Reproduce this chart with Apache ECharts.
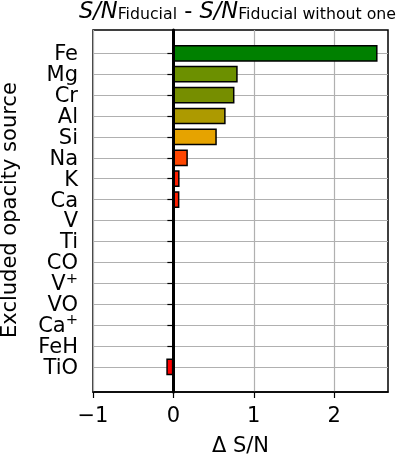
<!DOCTYPE html>
<html>
<head>
<meta charset="utf-8">
<script src="https://cdn.jsdelivr.net/npm/echarts@6/dist/echarts.min.js"></script>
<style>html,body{margin:0;padding:0;background:#fff}#c{width:400px;height:454px}</style>
</head>
<body>
<div id="c"></div>
<script>
// Data
var categories = ['Fe','Mg','Cr','Al','Si','Na','K','Ca','V','Ti','CO','V+','VO','Ca+','FeH','TiO'];
var deltaSN = [2.54, 0.80, 0.76, 0.65, 0.54, 0.18, 0.077, 0.075, 0.02, 0, 0, 0, 0, 0, -0.01, -0.088];
var barColors = ['#008000','#6c9000','#768e00','#ad9a00','#e6a300','#ff4600','#ff1f00','#ff1e00','#ff1000','#ff0800','#ff0500','#ff0500','#ff0500','#ff0500','#ff0300','#ff0000'];
var xTicks = [-1, 0, 1, 2];

var FONT = 'DejaVu Sans';
var chart = echarts.init(document.getElementById('c'), null, {renderer: 'canvas'});

var barData = deltaSN.map(function (v, i) {
  return { value: v, itemStyle: { color: barColors[i], borderWidth: v === 0 ? 0 : 1.5 } };
});

chart.setOption({
  animation: false,
  backgroundColor: '#fff',
  title: {
    text: '{i|S/N}{s|Fiducial}{n| - }{i|S/N}{s|Fiducial without one}',
    left: 79, top: 1, padding: 0,
    textStyle: {
      fontFamily: FONT, fontWeight: 'normal',
      rich: {
        i: { fontFamily: FONT, fontSize: 22.5, fontStyle: 'italic', fontWeight: 'normal', color: '#000', lineHeight: 22, verticalAlign: 'top' },
        n: { fontFamily: FONT, fontSize: 22.5, fontWeight: 'normal', color: '#000', lineHeight: 22, verticalAlign: 'top' },
        s: { fontFamily: FONT, fontSize: 15.75, fontWeight: 'normal', color: '#000', lineHeight: 10, verticalAlign: 'bottom' }
      }
    }
  },
  grid: [
    { left: 93, right: 12, top: 30, bottom: 62, show: true, borderColor: '#000', borderWidth: 1.5, backgroundColor: 'transparent', containLabel: false, outerBoundsMode: 'none' },
    { left: 93, right: 12, top: 53.3, bottom: 87.2, containLabel: false, outerBoundsMode: 'none' }
  ],
  xAxis: [
    {
      gridIndex: 0, type: 'value', min: -1, max: 2.67, interval: 1,
      axisLine: { show: true, lineStyle: { color: '#000', width: 1.5 } },
      axisTick: { show: true, length: 6, lineStyle: { color: '#000', width: 1.2 }, customValues: xTicks },
      axisLabel: { show: true, fontFamily: FONT, fontSize: 21, color: '#000', margin: 14, customValues: xTicks,
        formatter: function (v) { return v < 0 ? '\u2212' + Math.abs(v) : String(v); } },
      splitLine: { show: true, lineStyle: { color: '#b0b0b0', width: 1.2 } },
      name: '\u0394 S/N', nameLocation: 'middle', nameGap: 44,
      nameTextStyle: { fontFamily: FONT, fontSize: 21, color: '#000' }
    },
    { gridIndex: 1, type: 'value', min: -1, max: 2.67, show: false }
  ],
  yAxis: [
    {
      gridIndex: 0, type: 'value', min: 0, max: 1, z: 5,
      axisLine: { show: true, onZero: true, lineStyle: { color: '#000', width: 3 } },
      axisTick: { show: false }, axisLabel: { show: false }, splitLine: { show: false }
    },
    {
      gridIndex: 1, type: 'category', data: categories, inverse: true, boundaryGap: false,
      axisLine: { show: false },
      axisTick: { show: true, interval: 0, length: 6, lineStyle: { color: '#000', width: 1.2 } },
      axisLabel: {
        show: true, interval: 0, margin: 15, fontFamily: FONT, fontSize: 21, color: '#000',
        formatter: function (name) {
          if (name.charAt(name.length - 1) === '+') {
            return '{m|' + name.slice(0, -1) + '}{p|+}';
          }
          return '{m|' + name + '}';
        },
        rich: {
          m: { fontFamily: FONT, fontSize: 21, color: '#000', lineHeight: 24, verticalAlign: 'bottom' },
          p: { fontFamily: FONT, fontSize: 14.7, color: '#000', lineHeight: 14, verticalAlign: 'top' }
        }
      },
      splitLine: { show: true, interval: 0, lineStyle: { color: '#b0b0b0', width: 1.2 } },
      name: 'Excluded opacity source', nameLocation: 'middle', nameRotate: 90, nameGap: 72,
      nameTextStyle: { fontFamily: FONT, fontSize: 21, color: '#000' }
    }
  ],
  series: [
    {
      type: 'bar', xAxisIndex: 1, yAxisIndex: 1, data: barData, barWidth: '80%', clip: false,
      itemStyle: { borderColor: '#000', borderWidth: 1.5 }
    }
  ]
});
</script>
</body>
</html>
